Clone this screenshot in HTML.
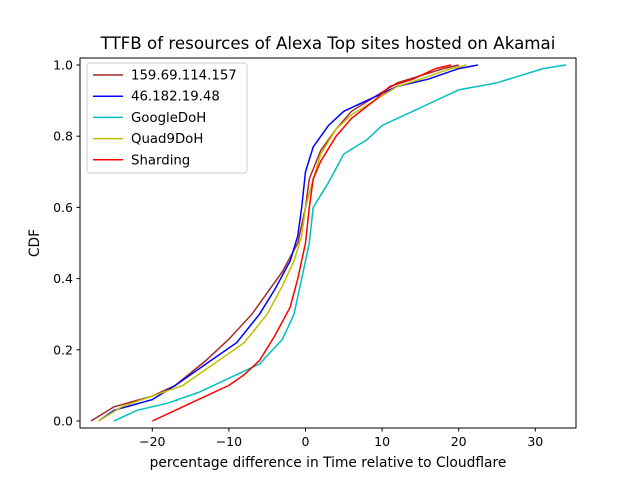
<!DOCTYPE html>
<html><head><meta charset="utf-8"><style>body{margin:0;background:#fff}svg{font-family:"DejaVu Sans","Liberation Sans",sans-serif}</style></head>
<body>
<svg id="chart" width="640" height="480" viewBox="0 0 640 480">
<rect width="640" height="480" fill="#fff"/>
<text x="328" y="49" text-anchor="middle" font-size="16.7">TTFB of resources of Alexa Top sites hosted on Akamai</text>
<g id="plot"></g>
<rect x="80" y="58" width="496" height="370" fill="none" stroke="#000" stroke-width="1"/>
<g id="ticks"></g>
<text x="328" y="467" text-anchor="middle" font-size="13.8">percentage difference in Time relative to Cloudflare</text>
<text x="39" y="243" text-anchor="middle" font-size="13.8" transform="rotate(-90 39 243)">CDF</text>
<g id="legend"></g>
</svg>
<script>
const seriesNames = ["159.69.114.157","46.182.19.48","GoogleDoH","Quad9DoH","Sharding"];
const xTicks = [-20,-10,0,10,20,30];
const yTicks = [0,0.2,0.4,0.6,0.8,1.0];
const xs159 = [-28,-25,-20,-17,-13,-10,-7,-5,-3,-1,0,0.5,2,4,6,9,12,15,18,20];
const ys159 = [0,0.04,0.07,0.1,0.17,0.23,0.3,0.36,0.42,0.5,0.6,0.68,0.76,0.82,0.87,0.91,0.95,0.97,0.99,1.0];
const xs46 = [-27,-25,-20,-17,-13,-9,-6,-4,-2,-1,-0.5,0,1,3,5,8,12,16,20,22.5];
const ys46 = [0,0.03,0.06,0.1,0.16,0.22,0.3,0.37,0.45,0.52,0.6,0.7,0.77,0.83,0.87,0.9,0.94,0.96,0.99,1.0];
const xsGoogle = [-25,-22,-18,-14,-10,-6,-3,-1.5,-0.5,0.5,1,3,5,8,10,14,18,20,25,28,31,34];
const ysGoogle = [0,0.03,0.05,0.08,0.12,0.16,0.23,0.3,0.4,0.5,0.6,0.67,0.75,0.79,0.83,0.87,0.91,0.93,0.95,0.97,0.99,1.0];
const xsQuad9 = [-27,-24,-20,-16,-12,-8,-5,-3,-1.5,-0.5,0,1,2,4,6,9,12,15,19,21];
const ysQuad9 = [0,0.04,0.07,0.1,0.16,0.22,0.3,0.38,0.45,0.52,0.6,0.68,0.75,0.82,0.86,0.9,0.94,0.96,0.99,1.0];
const xsShard = [-20,-17,-14,-10,-8,-6,-4,-2,-1,0,0.5,1,2,4,6,9,11,14,17,19];
const ysShard = [0,0.03,0.06,0.1,0.13,0.17,0.24,0.32,0.4,0.5,0.6,0.68,0.73,0.8,0.85,0.9,0.94,0.96,0.99,1.0];
const colors = ["#a52a2a","#0000ff","#00bfbf","#bfbf00","#ff0000"];
const NS="http://www.w3.org/2000/svg";
function sx(v){return 305.5+v*7.66;}
function sy(v){return 421-v*356;}
const plot=document.getElementById('plot');
const data=[[xs159,ys159],[xs46,ys46],[xsGoogle,ysGoogle],[xsQuad9,ysQuad9],[xsShard,ysShard]];
data.forEach((d,i)=>{
  let pts=d[0].map((x,j)=>sx(x).toFixed(1)+','+sy(d[1][j]).toFixed(1)).join(' ');
  const p=document.createElementNS(NS,'polyline');
  p.setAttribute('points',pts);p.setAttribute('fill','none');
  p.setAttribute('stroke',colors[i]);p.setAttribute('stroke-width','1.5');
  
  
  plot.appendChild(p);
});
const tk=document.getElementById('ticks');
xTicks.forEach(v=>{
  const x=sx(v);
  const l=document.createElementNS(NS,'line');
  l.setAttribute('x1',x);l.setAttribute('x2',x);l.setAttribute('y1',428);l.setAttribute('y2',431.5);l.setAttribute('stroke','#000');
  
  
  tk.appendChild(l);
  const t=document.createElementNS(NS,'text');
  t.setAttribute('x',x);t.setAttribute('y',446);t.setAttribute('text-anchor','middle');t.setAttribute('font-size','12.5');
  t.textContent=(v<0?'\u2212'+(-v):v);
  
  
  tk.appendChild(t);
});
yTicks.forEach(v=>{
  const y=sy(v);
  const l=document.createElementNS(NS,'line');
  l.setAttribute('x1',76.5);l.setAttribute('x2',80);l.setAttribute('y1',y);l.setAttribute('y2',y);l.setAttribute('stroke','#000');
  
  
  tk.appendChild(l);
  const t=document.createElementNS(NS,'text');
  t.setAttribute('x',73);t.setAttribute('y',y+4.5);t.setAttribute('text-anchor','end');t.setAttribute('font-size','12.5');
  t.textContent=v.toFixed(1);
  
  
  tk.appendChild(t);
});
const lg=document.getElementById('legend');
const box=document.createElementNS(NS,'rect');
box.setAttribute('x',87);box.setAttribute('y',63);box.setAttribute('width',160);box.setAttribute('height',110);
box.setAttribute('rx',3);box.setAttribute('fill','#fff');box.setAttribute('fill-opacity','0.8');box.setAttribute('stroke','#ccc');


lg.appendChild(box);
seriesNames.forEach((n,i)=>{
  const y=75+i*21.2;
  const l=document.createElementNS(NS,'line');
  l.setAttribute('x1',93);l.setAttribute('x2',123);l.setAttribute('y1',y);l.setAttribute('y2',y);
  l.setAttribute('stroke',colors[i]);l.setAttribute('stroke-width','1.5');
  
  
  lg.appendChild(l);
  const t=document.createElementNS(NS,'text');
  t.setAttribute('x',131);t.setAttribute('y',y+4.5);t.setAttribute('font-size','13.3');
  t.textContent=n;
  
  
  lg.appendChild(t);
});
</script>
</body></html>
